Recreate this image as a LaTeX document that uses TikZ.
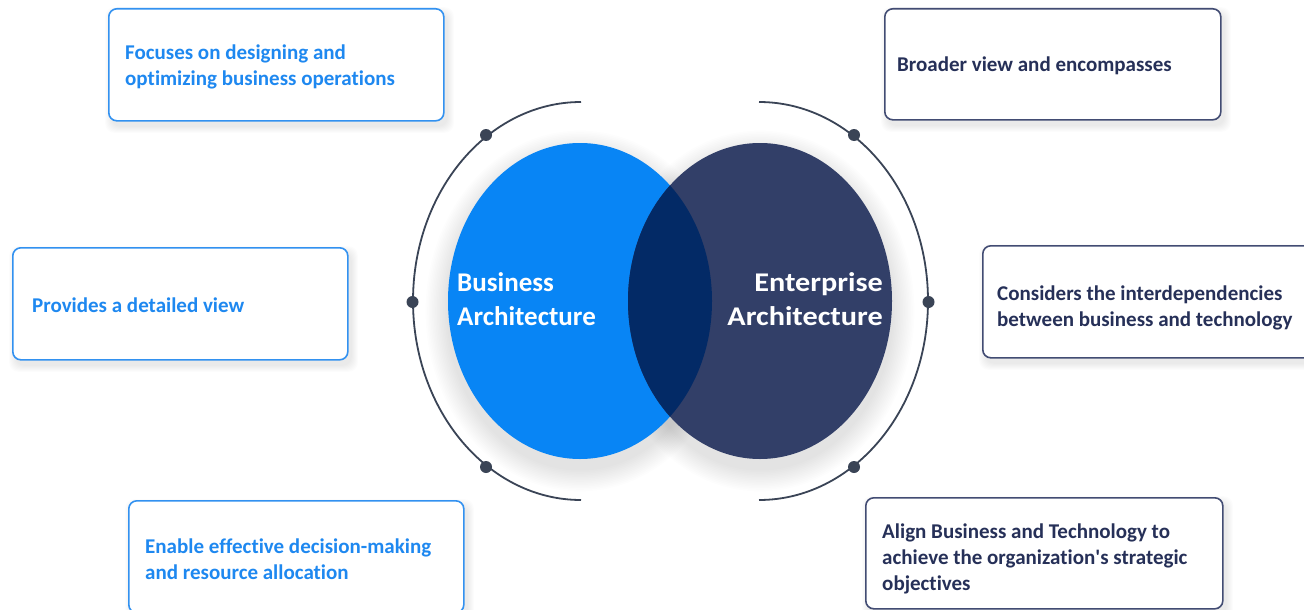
\documentclass[tikz,border=0pt]{standalone}
\usepackage{fontspec}
\setmainfont{Carlito}[Ligatures={TeX,NoCommon}]
\usetikzlibrary{shapes.geometric}
\definecolor{bablue}{RGB}{8,133,245}
\definecolor{eanavy}{RGB}{50,63,104}
\definecolor{ovl}{RGB}{3,42,102}
\definecolor{lborder}{RGB}{50,145,240}
\definecolor{ltext}{RGB}{30,136,240}
\definecolor{rborder}{RGB}{66,76,115}
\definecolor{rtext}{RGB}{38,48,88}
\definecolor{arcc}{RGB}{58,68,86}
\newcommand\softshadow[4]{%
  \foreach \k in {1,...,7}{%
    \fill[black, opacity=0.011, rounded corners=10pt] (#1-\k+4,#2-\k+6) rectangle (#3+\k+4,#4+\k+6);
  }}
\begin{document}
\begin{tikzpicture}[x=1pt,y=-1pt,
  boxbase/.style={draw, line width=1.6pt, rounded corners=8pt, fill=white, minimum width=335pt, minimum height=112pt, inner sep=0pt, anchor=north west},
  lbox/.style={boxbase, draw=lborder},
  rbox/.style={boxbase, draw=rborder},
  ltxt/.style={anchor=west, align=left, inner sep=0pt, text=ltext, font=\fontsize{21}{26}\selectfont\bfseries},
  rtxt/.style={ltxt, text=rtext},
  ctxt/.style={inner sep=0pt, text=white, font=\fontsize{27}{34}\selectfont\bfseries},
  dotc/.style={circle, fill=arcc, minimum size=12pt, inner sep=0pt},
  arcline/.style={draw=arcc, line width=1.8pt},
  venn/.style={ellipse, minimum width=264pt, minimum height=316pt, inner sep=0pt},
]
\useasboundingbox (0,0) rectangle (1304,610);
\fill[white] (0,0) rectangle (1304,610);

% soft shadows of the two ellipses
\foreach \k in {1,...,14}{
  \fill[black, opacity=0.009] (580,311) ellipse [x radius=132+\k*1.6, y radius=158+\k*1.6];
  \fill[black, opacity=0.009] (760,311) ellipse [x radius=132+\k*1.6, y radius=158+\k*1.6];
}

% Venn ellipses
\node[venn, fill=bablue] (ba) at (580,301) {};
\node[venn, fill=eanavy] (ea) at (760,301) {};
\begin{scope}
  \clip (580,301) ellipse [x radius=132pt, y radius=158pt];
  \fill[ovl] (760,301) ellipse [x radius=132pt, y radius=158pt];
\end{scope}

\node[ctxt, anchor=west, align=left] (batxt) at (457,299) {Business\\Architecture};
\begin{scope}[shift={(883,299)}, xscale=1.12]
  \node[ctxt, anchor=east, align=right, transform shape] (eatxt) at (0,0) {Enterprise\\Architecture};
\end{scope}

% surrounding arcs
\draw[arcline] (581,102) arc [start angle=90, end angle=270, x radius=168pt, y radius=199pt];
\draw[arcline] (759,102) arc [start angle=90, end angle=-90, x radius=169pt, y radius=199pt];

\node[dotc] (d1) at (486,135) {};
\node[dotc] (d2) at (412.5,302) {};
\node[dotc] (d3) at (486,467) {};
\node[dotc] (d4) at (854,135) {};
\node[dotc] (d5) at (928.5,302) {};
\node[dotc] (d6) at (854,467) {};

% boxes
\softshadow{108}{8}{443}{120}
\node[lbox] (b1) at (108,8) {};
\node[ltxt] (t1) at (125,67.4) {Focuses on designing and\\optimizing business operations};

\softshadow{12}{247}{347}{359}
\node[lbox] (b2) at (12,247) {};
\node[ltxt] (t2) at (32,305) {Provides a detailed view};

\softshadow{128}{500}{463}{612}
\node[lbox] (b3) at (128,500) {};
\node[ltxt] (t3) at (145,558.8) {Enable effective decision-making\\and resource allocation};

\softshadow{884}{8}{1220}{119}
\node[rbox, minimum width=336pt, minimum height=111pt] (b4) at (884,8) {};
\node[rtxt] (t4) at (897,66) {Broader view and encompasses};

\softshadow{982}{245}{1330}{357}
\node[rbox, minimum width=348pt] (b5) at (982,245) {};
\node[rtxt] (t5) at (997,307.7) {Considers the interdependencies\\between business and technology};

\softshadow{865}{497}{1222}{608}
\node[rbox, minimum width=357pt, minimum height=111pt] (b6) at (865,497) {};
\node[rtxt] (t6) at (882,558.6) {Align Business and Technology to\\achieve the organization\textquotesingle s strategic\\objectives};
\end{tikzpicture}
\end{document}
